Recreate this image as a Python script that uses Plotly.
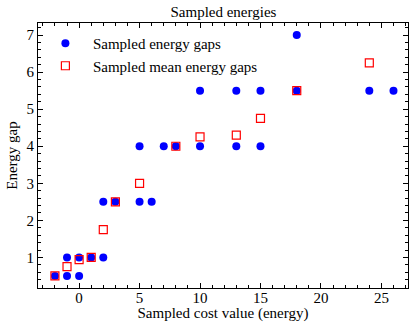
import plotly.graph_objects as go

gap_x = [-2, -1, 0, -1, 0, 1, 2, 2, 3, 5, 6, 5, 7, 8, 10, 13, 15, 10, 13, 15, 18, 24, 26, 18]
gap_y = [0.5, 0.5, 0.5, 1, 1, 1, 1, 2.5, 2.5, 2.5, 2.5, 4, 4, 4, 4, 4, 4, 5.5, 5.5, 5.5, 5.5, 5.5, 5.5, 7]

mean_x = [-2, -1, 0, 1, 2, 3, 5, 8, 10, 13, 15, 18, 24]
mean_y = [0.5, 0.75, 0.94, 1, 1.75, 2.5, 3, 4, 4.25, 4.3, 4.75, 5.5, 6.25]

x_ticks = [0, 5, 10, 15, 20, 25]
y_ticks = [1, 2, 3, 4, 5, 6, 7]

font = "Liberation Serif"

fig = go.Figure()
fig.add_trace(go.Scatter(x=gap_x, y=gap_y, mode="markers", name="  Sampled energy gaps",
                         marker=dict(symbol="circle", size=8, color="#0000ff", line=dict(width=0))))
fig.add_trace(go.Scatter(x=mean_x, y=mean_y, mode="markers", name="  Sampled mean energy gaps",
                         marker=dict(symbol="square-open", size=8, color="#ff0000", line=dict(width=1.2))))

axis_common = dict(showgrid=False, zeroline=False, showline=True, linecolor="black", linewidth=1,
                   mirror="allticks", ticks="inside", ticklen=5, tickcolor="black", tickwidth=1,
                   tickfont=dict(family=font, size=15, color="black"))

fig.update_layout(
    width=410, height=322,
    margin=dict(l=38, r=2, t=23, b=34),
    paper_bgcolor="white", plot_bgcolor="white",
    font=dict(family=font, size=15, color="black"),
    title=dict(text="Sampled energies", x=0.545, xanchor="center", y=0.962, yanchor="middle",
               font=dict(family=font, size=15, color="black")),
    xaxis=dict(range=[-3.4, 27.2], tickvals=x_ticks, ticklabelstandoff=-4,
               title=dict(text="Sampled cost value (energy)", standoff=0, font=dict(family=font, size=15)),
               minor=dict(dtick=1, ticks="inside", ticklen=3, tickcolor="black"),
               **axis_common),
    yaxis=dict(range=[0.175, 7.325], tickvals=y_ticks,
               title=dict(text="Energy gap", standoff=5, font=dict(family=font, size=15)),
               minor=dict(dtick=0.2, ticks="inside", ticklen=3, tickcolor="black"),
               **axis_common),
    legend=dict(x=0.02, y=0.985, xanchor="left", yanchor="top", bgcolor="rgba(0,0,0,0)",
                font=dict(family=font, size=15), itemsizing="trace", tracegroupgap=0),
    showlegend=True,
)

fig.write_html("out.html", config={"displayModeBar": False},
               post_script="document.body.style.margin='0';document.body.style.padding='0';")
